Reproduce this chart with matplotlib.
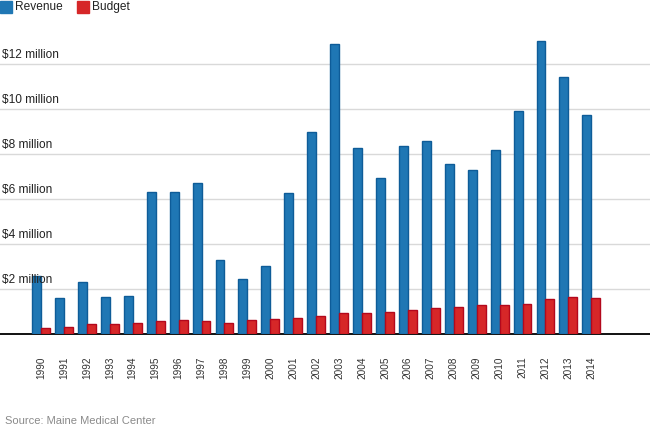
import matplotlib

matplotlib.use("Agg")
import matplotlib.pyplot as plt  # noqa: E402
import matplotlib.transforms as mtransforms  # noqa: E402
from matplotlib.patches import Rectangle  # noqa: E402
import numpy as np  # noqa: E402

plt.rcParams["font.family"] = ["Liberation Sans", "DejaVu Sans"]

# === Datos (en millones de dólares) ===
years = [str(y) for y in range(1990, 2015)]
revenue = [
    2.60, 1.59, 2.30, 1.63, 1.67, 6.31, 6.31, 6.71, 3.27, 2.43,
    3.01, 6.27, 8.96, 12.87, 8.25, 6.92, 8.34, 8.56, 7.54, 7.28,
    8.16, 9.90, 13.01, 11.41, 9.72,
]
budget = [
    0.25, 0.30, 0.43, 0.43, 0.48, 0.56, 0.61, 0.56, 0.48, 0.61,
    0.65, 0.70, 0.79, 0.92, 0.92, 0.96, 1.05, 1.14, 1.19, 1.28,
    1.28, 1.32, 1.54, 1.63, 1.59,
]
y_ticks = [2, 4, 6, 8, 10, 12]
y_tick_labels = [f"${v} million" for v in y_ticks]

BLUE = "#1f77b4"
BLUE_EDGE = "#0e5c98"
RED = "#d62728"
RED_EDGE = "#b3081c"

fig = plt.figure(figsize=(6.5, 4.33), dpi=100)
ax = fig.add_axes([0.0, 0.2286, 1.0, 0.7275])

x = np.arange(len(years))
width = 0.39
ax.bar(x - width / 2, np.array(revenue) * 1e6, width, color=BLUE,
       edgecolor=BLUE_EDGE, linewidth=1, zorder=3)
ax.bar(x + width / 2, np.array(budget) * 1e6, width, color=RED,
       edgecolor=RED_EDGE, linewidth=1, zorder=3)

ax.set_xlim(-1.79, 26.56)
ax.set_ylim(0, 14e6)

# Grilla horizontal y etiquetas sobre cada línea
trans = mtransforms.blended_transform_factory(ax.transAxes, ax.transData)
for value, label in zip(y_ticks, y_tick_labels):
    ax.axhline(value * 1e6, color="#d9d9d9", linewidth=1, zorder=1)
    ax.text(0.003, value * 1e6 + 0.13e6, label, transform=trans,
            fontsize=8.6, color="#222222", ha="left", va="bottom", zorder=4)

ax.set_yticks([])
ax.set_xticks(x)
ax.set_xticklabels(years, rotation=90, fontsize=7.2, color="#333333",
                   va="top")
ax.tick_params(axis="x", length=0, pad=16)

for side in ["top", "right", "left"]:
    ax.spines[side].set_visible(False)
ax.spines["bottom"].set_color("#111111")
ax.spines["bottom"].set_linewidth(1.4)

# Leyenda manual arriba a la izquierda
fig.patches.append(Rectangle((0, 420 / 433), 12 / 650, 12 / 433,
                             transform=fig.transFigure, color=BLUE))
fig.text(15 / 650, 426 / 433, "Revenue", fontsize=8.6, color="#222222",
         va="center", ha="left")
fig.patches.append(Rectangle((77 / 650, 420 / 433), 12 / 650, 12 / 433,
                             transform=fig.transFigure, color=RED))
fig.text(92 / 650, 426 / 433, "Budget", fontsize=8.6, color="#222222",
         va="center", ha="left")

fig.text(5 / 650, 1 - 421 / 433, "Source: Maine Medical Center",
         fontsize=8, color="#8a8a8a", va="center", ha="left")

fig.savefig("out.png", dpi=100)
plt.close(fig)
